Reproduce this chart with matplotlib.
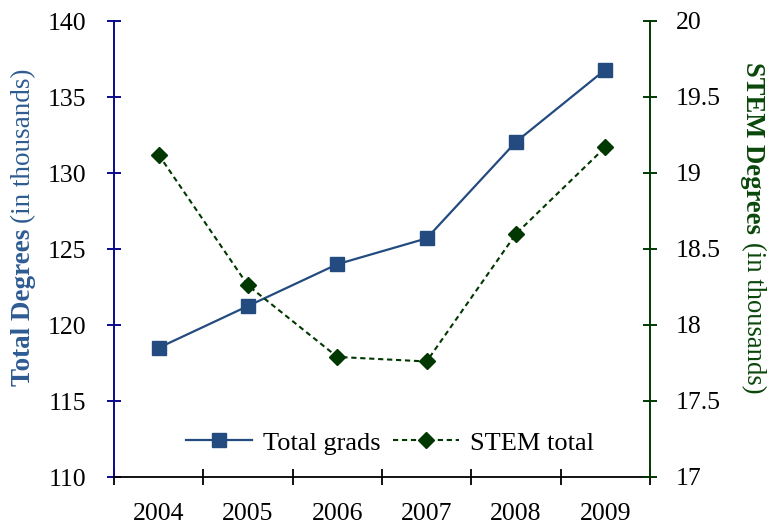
import matplotlib
matplotlib.use('Agg')
import matplotlib.pyplot as plt

plt.rcParams['font.family'] = ['Liberation Serif', 'DejaVu Serif']

####################################################################################################

years = ['2004', '2005', '2006', '2007', '2008', '2009']
total_grads = [118.5, 121.25, 124.0, 125.7, 132.05, 136.8]   # thousands
stem_total = [19.12, 18.26, 17.79, 17.76, 18.60, 19.17]      # thousands

blue = '#234B80'
navy = '#0A0A8C'
green = '#013801'
label_blue = '#2E5C92'
label_green = '#0A470A'

####################################################################################################

fig = plt.figure(figsize=(7.69, 5.25), dpi=100)
ax1 = fig.add_axes([114/769, 1 - 477/525, 536/769, 456/525])
ax2 = ax1.twinx()

x = range(len(years))
ax1.plot(x, total_grads, color=blue, lw=1.6, marker='s', ms=10,
         mfc=blue, mec=blue, label='Total grads')
ax2.plot(x, stem_total, color=green, lw=1.5, ls=(0, (2.5, 1.8)), marker='D', ms=8.5,
         mfc=green, mec=green, label='STEM total')

ax1.set_xlim(-0.5, len(years) - 0.5)
ax1.set_ylim(110, 140)
ax1.set_yticks(range(110, 141, 5))
ax2.set_ylim(17, 20)
ax2.set_yticks([17, 17.5, 18, 18.5, 19, 19.5, 20])
ax2.set_yticklabels(['17', '17.5', '18', '18.5', '19', '19.5', '20'])

# category boundaries as major ticks, year labels on minor ticks
ax1.set_xticks([i - 0.5 for i in range(len(years) + 1)])
ax1.set_xticklabels([])
ax1.set_xticks(list(x), minor=True)
ax1.set_xticklabels(years, minor=True)
ax1.tick_params(axis='x', which='major', direction='inout', length=11, width=1.3, color='black')
ax1.tick_params(axis='x', which='minor', length=0, pad=18.5, labelsize=18.5)

ax1.tick_params(axis='y', direction='inout', length=9.5, width=1.4, color=navy, pad=15.5, labelsize=18.5)
ax2.tick_params(axis='y', direction='inout', length=9.5, width=1.4, color=green, pad=14, labelsize=18.5)

for s in ['top', 'right']:
    ax1.spines[s].set_visible(False)
for s in ['top', 'left', 'bottom']:
    ax2.spines[s].set_visible(False)
ax1.spines['left'].set_color(navy)
ax1.spines['left'].set_linewidth(1.4)
ax1.spines['bottom'].set_color('black')
ax1.spines['bottom'].set_linewidth(1.3)
ax2.spines['right'].set_color(green)
ax2.spines['right'].set_linewidth(1.4)

# axis titles: bold name + plain "(in thousands)"
fig.text(24/769, 1 - 229/525, 'Total Degrees', rotation=90, rotation_mode='anchor',
         ha='right', va='center', fontsize=19.5, fontweight='bold', color=label_blue)
fig.text(24/769, 1 - 223/525, '(in thousands)', rotation=90, rotation_mode='anchor',
         ha='left', va='center', fontsize=19.5, color=label_blue)
fig.text(753/769, 1 - 234/525, 'STEM Degrees', rotation=270, rotation_mode='anchor',
         ha='right', va='center', fontsize=19.2, fontweight='bold', color=label_green)
fig.text(753/769, 1 - 242/525, '(in thousands)', rotation=270, rotation_mode='anchor',
         ha='left', va='center', fontsize=19.2, color=label_green)

handles = ax1.get_legend_handles_labels()[0] + ax2.get_legend_handles_labels()[0]
ax2.legend(handles, ['Total grads', 'STEM total'], loc='center', bbox_to_anchor=(0.515, 0.075),
           ncol=2, frameon=False, fontsize=19, handlelength=2.5, handletextpad=0.4,
           columnspacing=0.5, borderpad=0.2)

fig.savefig('out.png', dpi=100)
